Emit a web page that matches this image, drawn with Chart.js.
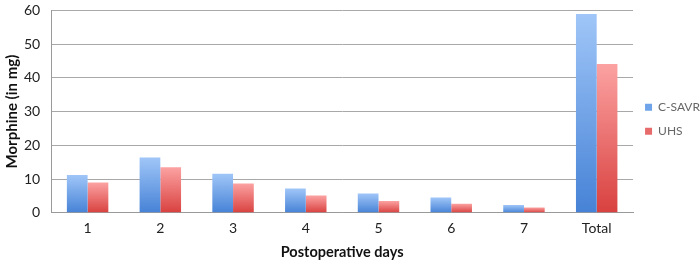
<!DOCTYPE html>
<html lang="en">
<head>
  <meta charset="UTF-8">
  <title>Morphine use by postoperative day</title>
  <script src="https://cdn.jsdelivr.net/npm/chart.js"></script>
  <style>
    body { margin: 0; background: #fff; }
    #wrap { width: 700px; height: 261px; }
  </style>
</head>
<body>
  <div id="wrap"><canvas id="morphineChart" width="700" height="261"></canvas></div>

  <script>
    const days = ["1", "2", "3", "4", "5", "6", "7", "Total"];
    const csavr = [11.2, 16.4, 11.6, 7.2, 5.7, 4.5, 2.3, 58.9];
    const uhs = [9.0, 13.5, 8.7, 5.1, 3.5, 2.7, 1.6, 44.1];
    const yTicks = [0, 10, 20, 30, 40, 50, 60];

    // each bar gets its own light-top / dark-bottom gradient
    function barFill(light, dark) {
      return function(ctx) {
        const chart = ctx.chart;
        if (ctx.type !== 'data' || !chart.chartArea) return dark;
        const y = chart.scales.y;
        const top = y.getPixelForValue(ctx.parsed.y);
        const bottom = y.getPixelForValue(0);
        if (!isFinite(top) || bottom - top < 1) return dark;
        const g = chart.ctx.createLinearGradient(0, top, 0, bottom);
        g.addColorStop(0, light);
        g.addColorStop(1, dark);
        return g;
      };
    }

    const font = "Lato, 'Open Sans', sans-serif";

    new Chart(document.getElementById("morphineChart"), {
      type: "bar",
      data: {
        labels: days,
        datasets: [
          {
            label: "C-SAVR",
            data: csavr,
            backgroundColor: barFill('#a0c6f8', '#4682d6')
          },
          {
            label: "UHS",
            data: uhs,
            backgroundColor: barFill('#fca2a2', '#d8413f')
          }
        ]
      },
      options: {
        responsive: false,
        animation: false,
        layout: { padding: { top: 0, right: -10, left: 3, bottom: 0 } },
        datasets: {
          bar: { categoryPercentage: 0.57, barPercentage: 1.0 }
        },
        scales: {
          x: {
            grid: { display: false, drawTicks: false },
            border: { color: '#9a9a9a', width: 1 },
            ticks: { color: '#222', padding: 7, font: { family: font, size: 14 } },
            title: {
              display: true,
              text: "Postoperative days",
              color: '#111',
              padding: { top: 0, bottom: 0 },
              font: { family: font, size: 14.5, weight: 'bold' }
            }
          },
          y: {
            min: 0,
            max: 60,
            afterBuildTicks: axis => { axis.ticks = yTicks.map(v => ({ value: v })); },
            // invisible tick marks keep the labels off the axis line
            grid: { color: '#a8a8a8', lineWidth: 1, drawTicks: true, tickLength: 9, tickColor: 'rgba(0,0,0,0)' },
            border: { color: '#9a9a9a', width: 1 },
            ticks: { color: '#222', padding: 2, font: { family: font, size: 14 } },
            title: {
              display: true,
              text: "Morphine (in mg)",
              color: '#111',
              padding: { top: 0, bottom: 1 },
              font: { family: font, size: 15, weight: 'bold' }
            }
          }
        },
        plugins: {
          legend: {
            position: 'right',
            fullSize: false,
            // empty title only nudges the two entries a little lower
            title: { display: true, text: '', padding: { top: 14, bottom: 0 }, font: { size: 1 } },
            labels: {
              boxWidth: 7,
              boxHeight: 7,
              padding: 12,
              color: '#222',
              font: { family: font, size: 12 },
              generateLabels: chart => chart.data.datasets.map((ds, i) => ({
                text: ds.label,
                fillStyle: i === 0 ? '#6fa3ea' : '#e86b6b',
                strokeStyle: 'rgba(0,0,0,0)',
                lineWidth: 0,
                datasetIndex: i
              }))
            }
          },
          tooltip: { enabled: false }
        }
      }
    });
  </script>
</body>
</html>
